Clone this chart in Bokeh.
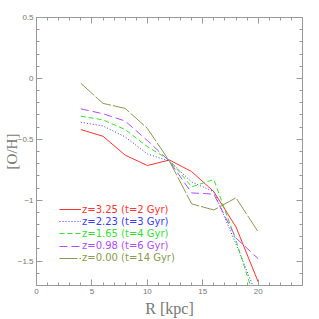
from bokeh.plotting import figure
from bokeh.models import (Range1d, LinearAxis, Legend, LegendItem, SingleIntervalTicker,
                          CustomJSTickFormatter)
from bokeh.embed import file_html
from bokeh.resources import INLINE

R = [4, 6, 8, 10, 12, 14, 16, 18, 20]
oh_z325 = [-0.42, -0.475, -0.63, -0.715, -0.67, -0.765, -0.93, -1.22, -1.67]
oh_z223 = [-0.36, -0.39, -0.48, -0.62, -0.68, -0.85, -0.93, -1.36, -1.81]
oh_z165 = [-0.31, -0.34, -0.42, -0.56, -0.67, -0.89, -0.83, -1.33, -1.90]
oh_z098 = [-0.25, -0.29, -0.35, -0.51, -0.68, -0.94, -0.95, -1.31, -1.48]
oh_z000 = [-0.04, -0.205, -0.246, -0.41, -0.68, -1.03, -1.08, -0.98, -1.26]
labels = ["z=3.25 (t=2 Gyr)", "z=2.23 (t=3 Gyr)", "z=1.65 (t=4 Gyr)",
          "z=0.98 (t=6 Gyr)", "z=0.00 (t=14 Gyr)"]

series = [oh_z325, oh_z223, oh_z165, oh_z098, oh_z000]
colors = ["#ff3333", "#3a3aff", "#33e033", "#b04cff", "#8a9a52"]
dashes = ["solid", "1 2", "5 3", "8 4", "18 2"]

p = figure(width=319, height=319, output_backend="svg",
           toolbar_location=None, x_range=Range1d(0, 24), y_range=Range1d(-1.7, 0.5),
           min_border_left=34, min_border_top=17, min_border_right=17, min_border_bottom=34)
p.grid.visible = False
p.outline_line_color = "#999999"
p.background_fill_color = "white"

def style_axis(ax, show_labels):
    ax.axis_line_color = "#999999"
    ax.major_tick_line_color = "#999999"
    ax.minor_tick_line_color = "#999999"
    ax.major_tick_in = 6
    ax.major_tick_out = 0
    ax.minor_tick_in = 3
    ax.minor_tick_out = 0
    ax.major_label_text_color = "#777777"
    ax.major_label_text_font = "Liberation Sans"
    ax.major_label_text_font_size = "8px"
    ax.major_label_standoff = 3
    if not show_labels:
        ax.formatter = CustomJSTickFormatter(code="return ''")
        ax.major_label_standoff = 0

p.xaxis.ticker = SingleIntervalTicker(interval=5, num_minor_ticks=5)
p.yaxis.ticker = SingleIntervalTicker(interval=0.5, num_minor_ticks=5)
style_axis(p.xaxis[0], True)
style_axis(p.yaxis[0], True)
p.xaxis.axis_label = "R [kpc]"
p.yaxis.axis_label = "[O/H]"
for ax, fs, so in ((p.xaxis[0], "16px", 3), (p.yaxis[0], "15px", -5)):
    ax.axis_label_text_font = "Liberation Serif"
    ax.axis_label_text_font_style = "normal"
    ax.axis_label_text_font_size = fs
    ax.axis_label_text_color = "#777777"
    ax.axis_label_standoff = so

top = LinearAxis(ticker=SingleIntervalTicker(interval=5, num_minor_ticks=5))
right = LinearAxis(ticker=SingleIntervalTicker(interval=0.5, num_minor_ticks=5))
style_axis(top, False)
style_axis(right, False)
p.add_layout(top, "above")
p.add_layout(right, "right")

for i, (ys, c, d, lab) in enumerate(zip(series, colors, dashes, labels)):
    r = p.line(R, ys, line_color=c, line_width=1, line_dash=d)
    leg = Legend(items=[LegendItem(label=lab, renderers=[r])],
                 location=(23, 70 - 12.2 * i), background_fill_alpha=0,
                 border_line_alpha=0, glyph_width=22, glyph_height=12, label_height=12,
                 label_standoff=1, spacing=0, padding=0, margin=0,
                 label_text_font="DejaVu Sans", label_text_font_size="10px",
                 label_text_color=c)
    p.add_layout(leg)

open("out.html", "w").write(file_html(p, INLINE))
